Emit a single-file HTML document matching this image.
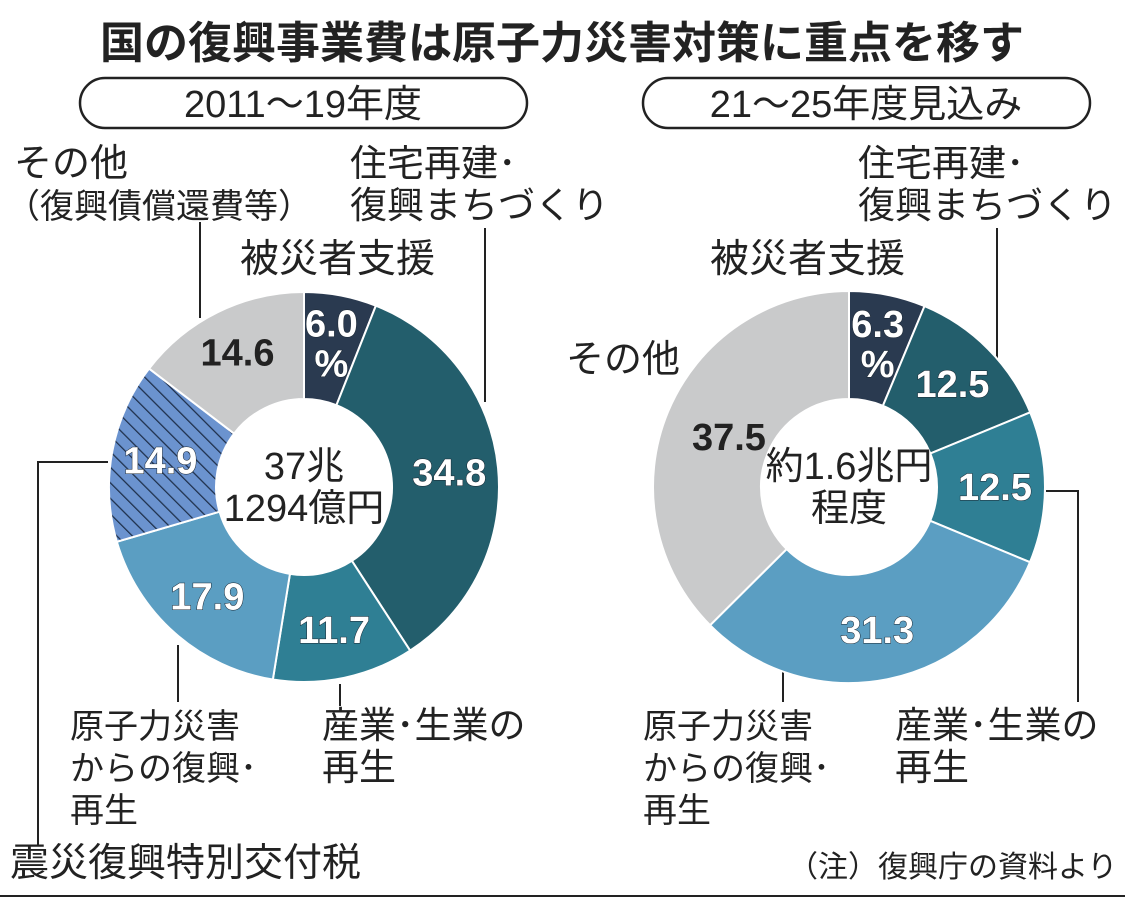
<!DOCTYPE html>
<html><head><meta charset="utf-8"><style>
body{margin:0;width:1125px;height:901px;background:#fff;overflow:hidden;font-family:"Liberation Sans","Noto Sans CJK JP",sans-serif;}
svg text{font-family:"Liberation Sans","Noto Sans CJK JP",sans-serif;}
</style></head><body>
<svg id="c" width="1125" height="901">
<defs><pattern id="hatch" width="11" height="11" patternUnits="userSpaceOnUse" patternTransform="rotate(-45)">
<rect width="11" height="11" fill="#6b93cf"/><line x1="0" y1="0" x2="0" y2="11" stroke="#1e2f4a" stroke-width="2.5"/></pattern></defs>
<text x="562" y="58" text-anchor="middle" font-size="44" font-weight="bold" fill="#222">国の復興事業費は原子力災害対策に重点を移す</text>
<rect x="80" y="78" width="447" height="50" rx="25" fill="#fff" stroke="#222" stroke-width="2.5"/>
<text x="303" y="117" text-anchor="middle" font-size="38" fill="#222">2011～19年度</text>
<rect x="643" y="78" width="447" height="50" rx="25" fill="#fff" stroke="#222" stroke-width="2.5"/>
<text x="866" y="117" text-anchor="middle" font-size="38" fill="#222">21～25年度見込み</text>
<g id="leaders" stroke="#222" stroke-width="2" fill="none">
<polyline points="200,222 200,318"/><polyline points="485,228 485,402"/>
<polyline points="108,462 38,462 38,845"/><polyline points="178,645 178,702"/><polyline points="340,684 340,706"/>
<polyline points="997,228 997,382"/><polyline points="1046,491 1078,491 1078,702"/><polyline points="783,672 783,702"/>
</g>
<g font-size="34" fill="#222">
<text x="14" y="176" font-size="38">その他</text><text x="6" y="218">（復興債償還費等）</text>
<text x="350" y="176" font-size="37">住宅再建･</text><text x="350" y="218" font-size="37">復興まちづくり</text>
<text x="240" y="272" font-size="39">被災者支援</text>
<text x="70" y="738">原子力災害</text><text x="70" y="780">からの復興･</text><text x="70" y="822">再生</text>
<text x="322" y="738" font-size="37">産業･生業の</text><text x="322" y="780" font-size="37">再生</text>
<text x="10" y="876" font-size="39">震災復興特別交付税</text>
<text x="858" y="176" font-size="37">住宅再建･</text><text x="858" y="218" font-size="37">復興まちづくり</text>
<text x="710" y="272" font-size="39">被災者支援</text>
<text x="566" y="372" font-size="38">その他</text>
<text x="643" y="738">原子力災害</text><text x="643" y="780">からの復興･</text><text x="643" y="822">再生</text>
<text x="895" y="738" font-size="37">産業･生業の</text><text x="895" y="780" font-size="37">再生</text>
<text x="788" y="877" font-size="30">（注）復興庁の資料より</text>
</g>
<line x1="0" y1="896" x2="1125" y2="896" stroke="#222" stroke-width="2"/>
</svg>
<script>
const leftValues=[6.0,34.8,11.7,17.9,14.9,14.6];
const leftLabels=["6.0\n%","34.8","11.7","17.9","14.9","14.6"];
const leftColors=["#2a3a50","#235e6c","#2f7f94","#5b9ec2","url(#hatch)","#c9cacb"];
const leftText=["#fff","#fff","#fff","#fff","#fff","#222"];
const rightValues=[6.3,12.5,12.5,31.3,37.5];
const rightLabels=["6.3\n%","12.5","12.5","31.3","37.5"];
const rightColors=["#2a3a50","#235e6c","#2f7f94","#5b9ec2","#c9cacb"];
const rightText=["#fff","#fff","#fff","#fff","#222"];
const svg=document.getElementById('c');const NS="http://www.w3.org/2000/svg";
function pt(cx,cy,r,a){return[cx+r*Math.sin(a),cy-r*Math.cos(a)];}
function donut(cx,cy,R,r,vals,labels,cols,tcols,center,side,lr){
 const tot=vals.reduce((a,b)=>a+b,0);let a0=0;
 vals.forEach((v,i)=>{const a1=a0+v/tot*2*Math.PI;
  const p1=pt(cx,cy,R,a0),p2=pt(cx,cy,R,a1),p3=pt(cx,cy,r,a1),p4=pt(cx,cy,r,a0);const lg=(a1-a0)>Math.PI?1:0;
  const p=document.createElementNS(NS,'path');
  p.setAttribute('d',`M${p1}A${R},${R} 0 ${lg} 1 ${p2}L${p3}A${r},${r} 0 ${lg} 0 ${p4}Z`);
  p.setAttribute('fill',cols[i]);p.setAttribute('stroke','#fff');p.setAttribute('stroke-width','2');
  
  
  svg.appendChild(p);
  const m=(a0+a1)/2;const [tx,ty]=pt(cx,cy,lr[i],m);
  const lines=labels[i].split('\n');
  lines.forEach((ln,k)=>{const t=document.createElementNS(NS,'text');
   t.setAttribute('x',tx);t.setAttribute('y',ty+13+(k-(lines.length-1)/2)*40);
   t.setAttribute('text-anchor','middle');t.setAttribute('font-size','38');t.setAttribute('font-weight','bold');
   t.setAttribute('fill',tcols[i]);if(tcols[i]=='#fff'){t.setAttribute('stroke','#1a2530');t.setAttribute('stroke-width','1');t.setAttribute('paint-order','stroke');}
   t.textContent=ln;
   
   
   svg.appendChild(t);});
  a0=a1;});
 center.forEach((ln,k)=>{const t=document.createElementNS(NS,'text');
  t.setAttribute('x',cx);t.setAttribute('y',cy-8+k*42);t.setAttribute('text-anchor','middle');t.setAttribute('font-size','38');t.setAttribute('fill','#222');
  t.textContent=ln;
  
  
  svg.appendChild(t);});
}
donut(304,487,195,88,leftValues,leftLabels,leftColors,leftText,["37兆","1294億円"],'left',[146,146,146,146,146,150]);
donut(849,487,196,88,rightValues,rightLabels,rightColors,rightText,["約1.6兆円","程度"],'right',[146,146,146,146,130]);
</script>
</body></html>
